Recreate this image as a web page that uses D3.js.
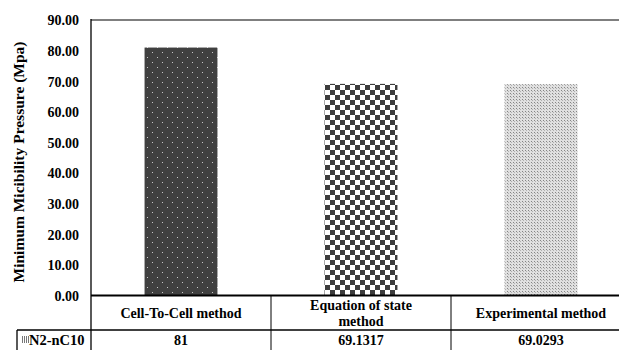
<!DOCTYPE html>
<html>
<head>
<meta charset="utf-8">
<script src="https://cdn.jsdelivr.net/npm/d3@7"></script>
<style>
  body { margin: 0; background: #fff; }
  svg { display: block; }
  svg text { font-family: "Liberation Serif", "Times New Roman", "DejaVu Serif", serif; font-weight: bold; fill: #000; }
</style>
</head>
<body>
<script>
const categories = ['Cell-To-Cell method', 'Equation of state method', 'Experimental method'];
const categoryLines = [['Cell-To-Cell method'], ['Equation of state', 'method'], ['Experimental method']];
const seriesName = 'N2-nC10';
const values = [81, 69.1317, 69.0293];
const valueLabels = ['81', '69.1317', '69.0293'];
const yTicks = [0, 10, 20, 30, 40, 50, 60, 70, 80, 90];

const width = 619, height = 350;
const plotLeft = 91, plotRight = 631, plotTop = 20, zero = 295.5;
const row1 = 330;

const svg = d3.select('body').append('svg')
    .attr('width', width)
    .attr('height', height);

const defs = svg.append('defs');

// dark with small light dots
const p1 = defs.append('pattern').attr('id', 'pDots').attr('patternUnits', 'userSpaceOnUse')
    .attr('width', 10).attr('height', 10);
p1.append('rect').attr('width', 10).attr('height', 10).attr('fill', '#404040');
p1.append('rect').attr('x', 2).attr('y', 2).attr('width', 1).attr('height', 1).attr('fill', '#c8c8c8');
p1.append('rect').attr('x', 7).attr('y', 7).attr('width', 1).attr('height', 1).attr('fill', '#c8c8c8');

// checkerboard
const p2 = defs.append('pattern').attr('id', 'pCheck').attr('patternUnits', 'userSpaceOnUse')
    .attr('width', 10).attr('height', 10);
p2.append('rect').attr('width', 10).attr('height', 10).attr('fill', '#fff');
p2.append('rect').attr('width', 5).attr('height', 5).attr('fill', '#3c3c3c');
p2.append('rect').attr('x', 5).attr('y', 5).attr('width', 5).attr('height', 5).attr('fill', '#3c3c3c');

// fine grey dots
const p3 = defs.append('pattern').attr('id', 'pFine').attr('patternUnits', 'userSpaceOnUse')
    .attr('width', 3).attr('height', 3);
p3.append('rect').attr('width', 3).attr('height', 3).attr('fill', '#e0e0e0');
p3.append('rect').attr('width', 1).attr('height', 1).attr('fill', '#858585');
p3.append('rect').attr('x', 1).attr('y', 1).attr('width', 1).attr('height', 1).attr('fill', '#b0b0b0');

// legend key: vertical lines
const pk = defs.append('pattern').attr('id', 'pKey').attr('patternUnits', 'userSpaceOnUse')
    .attr('width', 2).attr('height', 2);
pk.append('rect').attr('width', 2).attr('height', 2).attr('fill', '#fff');
pk.append('rect').attr('width', 1).attr('height', 2).attr('fill', '#777');

const fills = ['url(#pDots)', 'url(#pCheck)', 'url(#pFine)'];

const xScale = d3.scaleBand()
    .domain(categories)
    .range([plotLeft, plotRight])
    .paddingInner(0)
    .paddingOuter(0);

const yScale = d3.scaleLinear()
    .domain([0, 90])
    .range([zero, plotTop]);

// top grid line
svg.append('line')
    .attr('x1', plotLeft).attr('x2', width)
    .attr('y1', yScale(90)).attr('y2', yScale(90))
    .attr('stroke', '#7f7f7f').attr('stroke-width', 2);

// bars
const bw = xScale.bandwidth() * 0.405;
svg.selectAll('rect.bar')
    .data(values)
    .enter()
    .append('rect')
    .attr('class', 'bar')
    .attr('x', (d, i) => xScale(categories[i]) + xScale.bandwidth() / 2 - bw / 2)
    .attr('y', d => yScale(d))
    .attr('width', bw)
    .attr('height', d => yScale(0) - yScale(d))
    .attr('fill', (d, i) => fills[i]);

// y axis
const yAxis = d3.axisLeft(yScale)
    .tickValues(yTicks)
    .tickFormat(d3.format('.2f'))
    .tickSize(0)
    .tickPadding(12);

const yAxisGroup = svg.append('g')
    .attr('transform', `translate(${plotLeft}, 0)`)
    .call(yAxis);
yAxisGroup.select('.domain').remove();
yAxisGroup.attr('font-family', null).attr('font-size', null);
yAxisGroup.selectAll('text')
    .style('font-size', '14px')
    .attr('dy', '0.35em');

svg.append('line')
    .attr('x1', plotLeft).attr('x2', plotLeft)
    .attr('y1', plotTop - 1).attr('y2', height)
    .attr('stroke', '#000').attr('stroke-width', 1.3);

// y title
svg.append('text')
    .attr('transform', `translate(24, 162) rotate(-90)`)
    .attr('text-anchor', 'middle')
    .style('font-size', '15.5px')
    .text('Minimum Micibility Pressure (Mpa)');

// zero line
svg.append('line')
    .attr('x1', plotLeft).attr('x2', width)
    .attr('y1', zero).attr('y2', zero)
    .attr('stroke', '#000').attr('stroke-width', 2);

// data table
svg.append('line')
    .attr('x1', 17).attr('x2', width)
    .attr('y1', row1).attr('y2', row1)
    .attr('stroke', '#000').attr('stroke-width', 1.3);
svg.append('line')
    .attr('x1', 17).attr('x2', 17)
    .attr('y1', row1).attr('y2', height)
    .attr('stroke', '#000').attr('stroke-width', 1.3);

categories.forEach((c, i) => {
    const x0 = xScale(c) + xScale.bandwidth();
    if (i < categories.length - 1) {
        svg.append('line')
            .attr('x1', x0).attr('x2', x0)
            .attr('y1', zero).attr('y2', height)
            .attr('stroke', '#000').attr('stroke-width', 1);
    }
    const cx = xScale(c) + xScale.bandwidth() / 2;
    const lines = categoryLines[i];
    const mid = (zero + row1) / 2 + 5;
    lines.forEach((l, j) => {
        svg.append('text')
            .attr('x', cx)
            .attr('y', mid + (j - (lines.length - 1) / 2) * 15.5)
            .attr('text-anchor', 'middle')
            .style('font-size', '14px')
            .text(l);
    });
    svg.append('text')
        .attr('x', cx)
        .attr('y', row1 + 15)
        .attr('text-anchor', 'middle')
        .style('font-size', '14px')
        .text(valueLabels[i]);
});

// legend key + series name
svg.append('rect')
    .attr('x', 21).attr('y', 336).attr('width', 8).attr('height', 7)
    .attr('fill', 'url(#pKey)');
svg.append('text')
    .attr('x', 29).attr('y', row1 + 15)
    .style('font-size', '14.5px')
    .text(seriesName);
</script>
</body>
</html>
